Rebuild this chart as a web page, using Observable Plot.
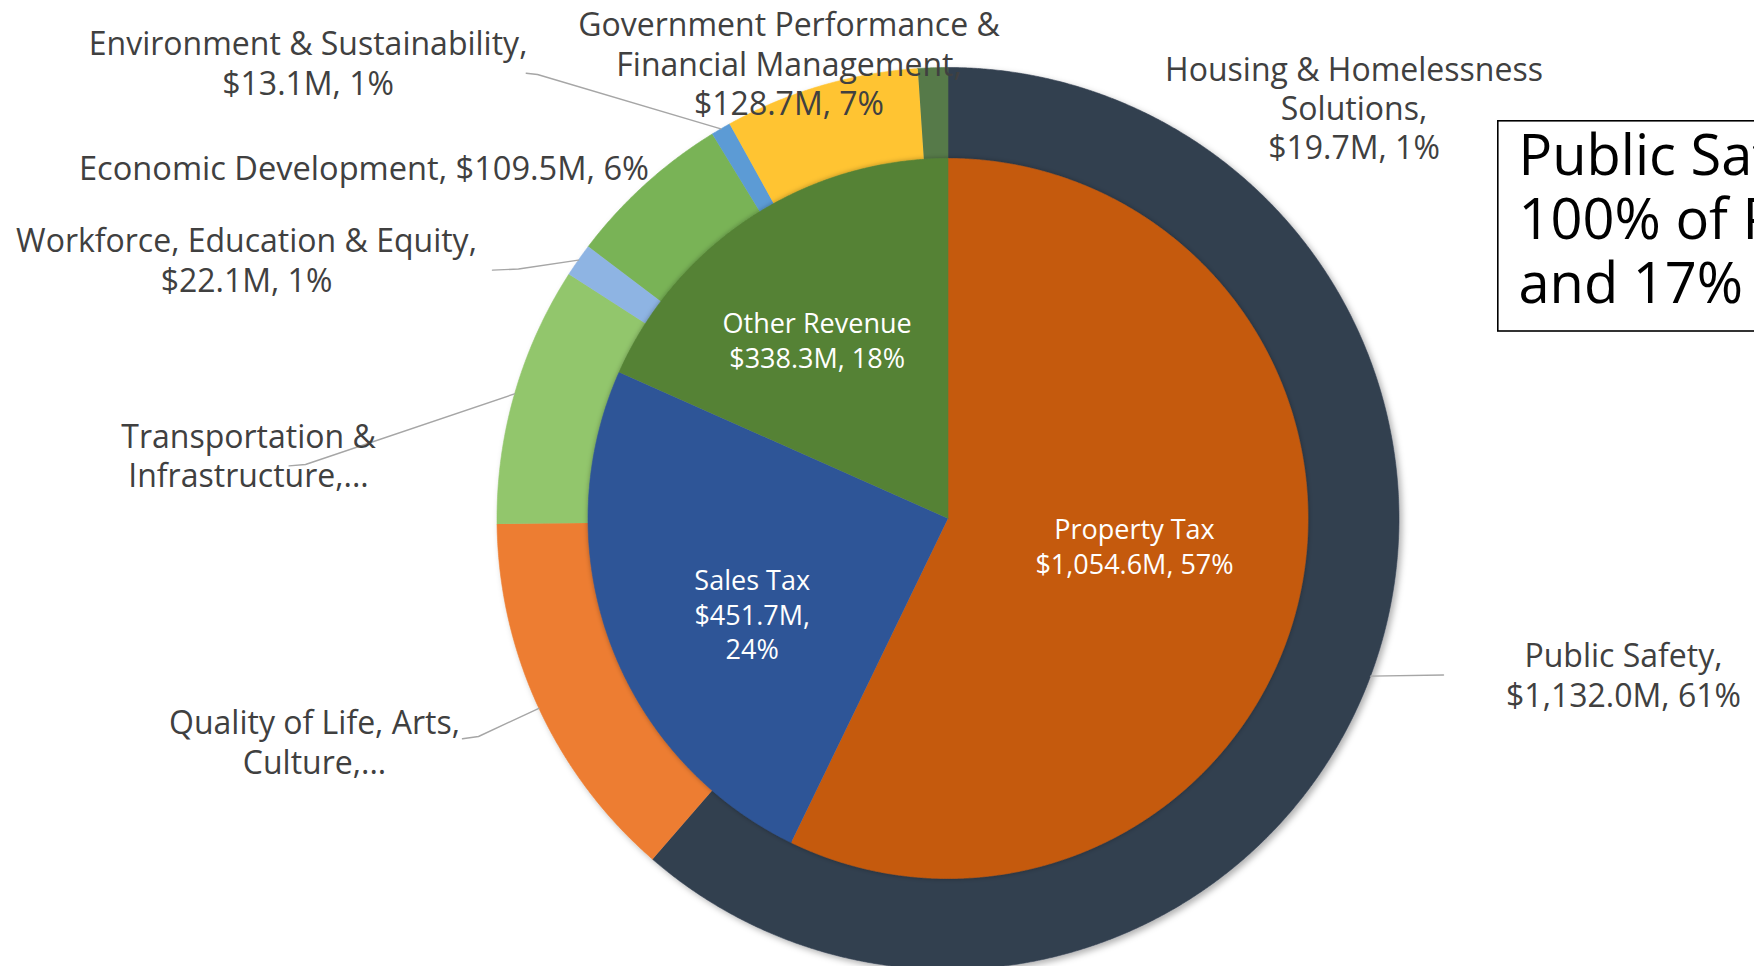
<!DOCTYPE html>
<html><head><meta charset="utf-8">
<script src="https://cdn.jsdelivr.net/npm/d3@7"></script>
<script src="https://cdn.jsdelivr.net/npm/@observablehq/plot@0.6"></script>
<style>html,body{margin:0;padding:0;background:#fff;overflow:hidden}#chart svg{display:block}</style>
</head><body><div id="chart"></div>
<script>
// ---- data ----
const outerNames = ["Public Safety","Quality of Life, Arts, Culture","Transportation & Infrastructure","Workforce, Education & Equity","Economic Development","Environment & Sustainability","Government Performance & Financial Management","Housing & Homelessness Solutions"];
const outerValues = [1132.0, 247.8, 171.7, 22.1, 109.5, 13.1, 128.7, 19.7];
const outerLabels = ["Public Safety,\n$1,132.0M, 61%","Quality of Life, Arts,\nCulture,...","Transportation &\nInfrastructure,...","Workforce, Education & Equity,\n$22.1M, 1%","Economic Development, $109.5M, 6%","Environment & Sustainability,\n$13.1M, 1%","Government Performance &\nFinancial Management,\n$128.7M, 7%","Housing & Homelessness\nSolutions,\n$19.7M, 1%"];
const innerNames = ["Property Tax","Sales Tax","Other Revenue"];
const innerValues = [1054.6, 451.7, 338.3];
const innerLabels = ["Property Tax\n$1,054.6M, 57%","Sales Tax\n$451.7M,\n24%","Other Revenue\n$338.3M, 18%"];
const noteLines = ["Public Safety uses","100% of Property Tax","and 17% of Sales Tax"];

// ---- style / layout ----
const outerColors = ["#333F50","#ED7D31","#92C66C","#8EB4E3","#79B356","#5B9BD5","#FFC433","#567A4A"];
const innerColors = ["#C55A11","#2F5597","#548235"];
const W = 1754, H = 966, CX = 947.5, CY = 518, R_OUT = 451, R_IN = 360;
const FONT = "'Century Gothic','Open Sans',sans-serif";
const outerLabelPos = [[1623,674],[314,741],[248,454.5],[246,259],[363.5,166.7],[307.6,62],[788.5,62.6],[1353.5,107.2]];
const outerFontSize = [32,32,32,32,32.6,32,32,32];
const innerLabelPos = [[1134,544.8],[751.7,612.9],[816.6,338.4]];
const leaderPts = [[[1443,674.5]], [[462,738.3],[478,736]], [[288.6,465.4],[305,464]], [[492,269.6],[518,268.5]], null, [[525.7,72.7],[537,74]], null, null];
const note = {x1: 1497.8, x2: 1800, y1: 120.8, y2: 331, tx: 1518, ty: 218};

// ---- geometry ----
const rad = d => d * Math.PI / 180;
function slices(names, values) {
  const total = d3.sum(values);
  let acc = 0;
  return names.map((n, i) => {
    const a0 = acc / total * 360; acc += values[i];
    const a1 = acc / total * 360;
    return {name: n, a0, a1, mid: (a0 + a1) / 2};
  });
}
function poly(s, r0, r1) {
  const pts = [];
  const n = Math.max(2, Math.ceil((s.a1 - s.a0) / 0.25));
  for (let k = 0; k <= n; k++) {
    const a = rad(s.a0 + (s.a1 - s.a0) * k / n);
    pts.push({name: s.name, x: r1 * Math.sin(a), y: -r1 * Math.cos(a)});
  }
  if (r0 === 0) pts.push({name: s.name, x: 0, y: 0});
  else for (let k = n; k >= 0; k--) {
    const a = rad(s.a0 + (s.a1 - s.a0) * k / n);
    pts.push({name: s.name, x: r0 * Math.sin(a), y: -r0 * Math.cos(a)});
  }
  return pts;
}
const outerS = slices(outerNames, outerValues);
const innerS = slices(innerNames, innerValues);
const outerPts = outerS.flatMap(s => poly(s, R_IN - 1, R_OUT));
const innerPts = innerS.flatMap(s => poly(s, 0, R_IN));
const leaders = [];
outerS.forEach((s, i) => {
  const L = leaderPts[i]; if (!L) return;
  L.forEach(p => leaders.push({id: i, x: p[0] - CX, y: p[1] - CY}));
  leaders.push({id: i, x: R_OUT * Math.sin(rad(s.mid)), y: -R_OUT * Math.cos(rad(s.mid))});
});
const outerText = outerLabels.map((t, i) => ({text: t, fs: outerFontSize[i], x: outerLabelPos[i][0] - CX, y: outerLabelPos[i][1] - CY}));
const innerText = innerLabels.map((t, i) => ({text: t, x: innerLabelPos[i][0] - CX, y: innerLabelPos[i][1] - CY}));

const chart = Plot.plot({
  width: W, height: H, margin: 0,
  style: {background: "white"},
  x: {domain: [-CX, W - CX], range: [0, W], axis: null},
  y: {domain: [-CY, H - CY], range: [0, H], axis: null},
  color: {type: "ordinal", domain: [...outerNames, ...innerNames], range: [...outerColors, ...innerColors]},
  marks: [
    Plot.line(outerPts, {x: "x", y: "y", z: "name", fill: "name", stroke: "name", strokeWidth: 0.6, curve: "linear"}),
    Plot.line(innerPts, {x: "x", y: "y", z: "name", fill: "name", stroke: "name", strokeWidth: 0.6, curve: "linear"}),
    Plot.line(leaders, {x: "x", y: "y", z: "id", stroke: "#A6A6A6", strokeWidth: 1.4}),
    Plot.text(outerText, {x: "x", y: "y", text: "text", fill: "#404040", fontSize: "fs", lineHeight: 1.225, fontFamily: FONT}),
    Plot.text(innerText, {x: "x", y: "y", text: "text", fill: "white", fontSize: 27, lineHeight: 34.9 / 27, fontFamily: FONT}),
    Plot.rect([note], {x1: d => d.x1 - CX, x2: d => d.x2 - CX, y1: d => d.y1 - CY, y2: d => d.y2 - CY, fill: "white", stroke: "black", strokeWidth: 1.6}),
    Plot.text([note], {x: d => d.tx - CX, y: d => d.ty - CY, text: () => noteLines.join("\n"), textAnchor: "start", fill: "black", fontSize: 56, lineHeight: 63.8 / 56, fontFamily: FONT})
  ]
});
document.getElementById("chart").appendChild(chart);
// soft shadow like the original's ring effect
try {
  const ns = "http://www.w3.org/2000/svg";
  const defs = document.createElementNS(ns, "defs");
  defs.innerHTML = '<filter id="ringShadow" x="-10%" y="-10%" width="120%" height="120%"><feDropShadow dx="3" dy="3" stdDeviation="3" flood-color="#000" flood-opacity="0.3"/></filter>' +
                   '<filter id="pieShadow" x="-10%" y="-10%" width="120%" height="120%"><feDropShadow dx="0" dy="0" stdDeviation="2.5" flood-color="#000" flood-opacity="0.3"/></filter>';
  chart.insertBefore(defs, chart.firstChild);
  const groups = chart.querySelectorAll('g[aria-label="line"]');
  if (groups[0]) groups[0].setAttribute("filter", "url(#ringShadow)");
  if (groups[1]) groups[1].setAttribute("filter", "url(#pieShadow)");
} catch (e) {}
</script></body></html>
